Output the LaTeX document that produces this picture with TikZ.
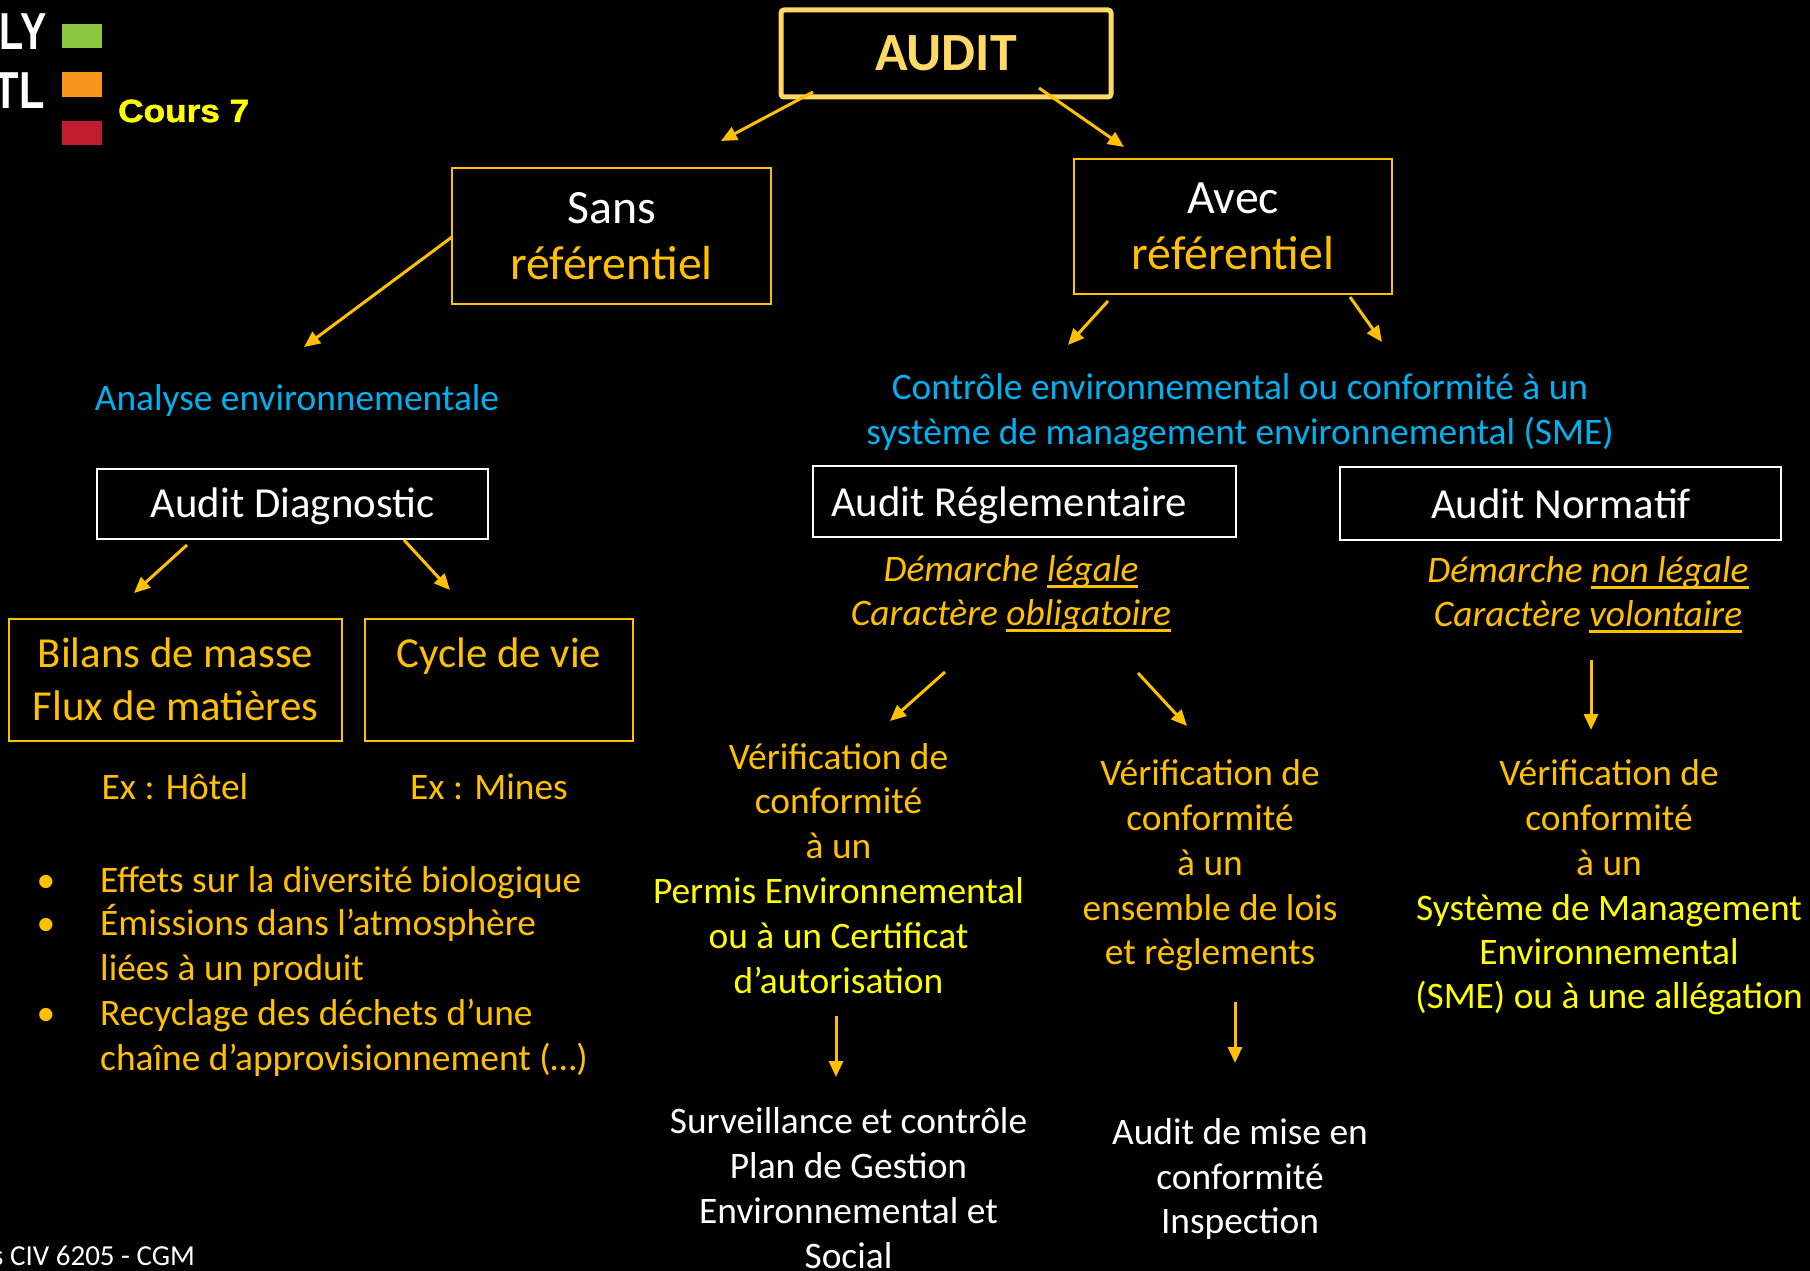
\documentclass[tikz,border=0pt]{standalone}
\usepackage{graphicx}
\usepackage{fontspec}
\setmainfont{Carlito}
\newfontfamily\arialfont{Liberation Sans}
\newfontfamily\heavyfont{Liberation Sans}[BoldFeatures={FakeBold=1.5}]
\usetikzlibrary{arrows.meta}
\definecolor{gold}{HTML}{FFC000}
\definecolor{lgold}{HTML}{FFD966}
\definecolor{yel}{HTML}{FFFF00}
\definecolor{sky}{HTML}{00B0F0}
\definecolor{sqgreen}{RGB}{141,198,63}
\definecolor{sqorange}{RGB}{247,148,29}
\definecolor{sqred}{RGB}{190,30,45}
\newcommand\myul[1]{\setbox0=\hbox{#1}\rlap{\rule[-6.5pt]{\wd0}{2.3pt}}\box0}
\tikzset{
  arr/.style={draw=gold, line width=3pt, -{Triangle[length=16pt,width=14pt]}},
  txt/.style={inner sep=0pt, anchor=base, font=\fontsize{37.4}{45}\selectfont},
  mid/.style={inner sep=0pt, anchor=base, font=\fontsize{42.8}{50}\selectfont},
  big/.style={inner sep=0pt, anchor=base, font=\fontsize{47.8}{56}\selectfont},
  goldbox/.style={draw=gold, line width=2.5pt, inner sep=0pt},
  whitebox/.style={draw=white, line width=2.5pt, inner sep=0pt},
}
\begin{document}
\begin{tikzpicture}[x=1pt,y=-1pt]
\fill[black] (0,0) rectangle (1810,1271);
\useasboundingbox (0,0) rectangle (1810,1271);

% top-left logo part
\node[inner sep=0pt, anchor=base east, text=white, font=\arialfont\bfseries\fontsize{52}{60}\selectfont] (ly) at (47,50) {\scalebox{0.76}[1]{LY}};
\node[inner sep=0pt, anchor=base east, text=white, font=\arialfont\bfseries\fontsize{52}{60}\selectfont] (tl) at (45,109) {\scalebox{0.8}[1]{TL}};
\fill[sqgreen] (62,24) rectangle (102,48);
\fill[sqorange] (62,72) rectangle (102,97);
\fill[sqred] (62,121) rectangle (102,145);
\node[inner sep=0pt, anchor=base west, text=yel, font=\heavyfont\bfseries\fontsize{32}{38}\selectfont] (cours) at (118,122) {\scalebox{1.1}[1]{Cours 7}};
\node[inner sep=0pt, anchor=base west, text=white, font=\fontsize{29}{34}\selectfont] (footer) at (-8,1265) {s CIV 6205 - CGM};

% boxes
\node[draw=lgold, line width=5pt, rounded corners=3pt, inner sep=0pt, minimum width=330pt, minimum height=87pt] (audit) at (946,53.5) {};
\node[goldbox, minimum width=319pt, minimum height=136pt] (sans) at (611.5,236) {};
\node[goldbox, minimum width=318pt, minimum height=135pt] (avec) at (1233,226.5) {};
\node[whitebox, minimum width=391pt, minimum height=70pt] (adiag) at (292.5,504) {};
\node[whitebox, minimum width=423pt, minimum height=71pt] (areg) at (1024.5,501.5) {};
\node[whitebox, minimum width=441pt, minimum height=73pt] (anorm) at (1560.5,503.5) {};
\node[goldbox, minimum width=333pt, minimum height=122pt] (bilans) at (175.5,680) {};
\node[goldbox, minimum width=268pt, minimum height=122pt] (cycle) at (499,680) {};

% box texts
\node[inner sep=0pt, anchor=base, text=lgold, font=\bfseries\fontsize{53.8}{60}\selectfont] (auditt) at (946,71) {AUDIT};
\node[big, text=white] (sans1) at (611.5,223) {Sans};
\node[big, text=gold] (sans2) at (611.5,279) {référentiel};
\node[big, text=white] (avec1) at (1233,213) {Avec};
\node[big, text=gold] (avec2) at (1233,269) {référentiel};
\node[mid, text=white] (adiagt) at (292.5,517) {Audit Diagnostic};
\node[mid, text=white] (aregt) at (1009,516) {Audit Réglementaire};
\node[mid, text=white] (anormt) at (1561,518) {Audit Normatif};
\node[mid, text=gold] (bil1) at (175.5,667) {Bilans de masse};
\node[mid, text=gold] (bil2) at (175.5,720) {Flux de matières};
\node[mid, text=gold] (cyc1) at (499,667) {Cycle de vie};

% free texts
\node[txt, text=sky] (analyse) at (297,410) {Analyse environnementale};
\node[txt, text=sky] (ctrl1) at (1240,399) {Contrôle environnemental ou conformité à un};
\node[txt, text=sky] (ctrl2) at (1240,444) {système de management environnemental (SME)};
\node[txt, text=gold] (exh) at (175,799) {Ex : Hôtel};
\node[txt, text=gold] (exm) at (489,799) {Ex : Mines};
\node[txt, text=gold, font=\itshape\fontsize{37.4}{45}\selectfont] (dem1) at (1011,581) {Démarche \myul{légale}};
\node[txt, text=gold, font=\itshape\fontsize{37.4}{45}\selectfont] (car1) at (1011,625) {Caractère \myul{obligatoire}};
\node[txt, text=gold, font=\itshape\fontsize{37.4}{45}\selectfont] (dem2) at (1588,582) {Démarche \myul{non légale}};
\node[txt, text=gold, font=\itshape\fontsize{37.4}{45}\selectfont] (car2) at (1588,626) {Caractère \myul{volontaire}};

% bullets
\node[txt, text=gold] (b1) at (46,892) {•};
\node[txt, text=gold] (b2) at (46,935) {•};
\node[txt, text=gold] (b3) at (46,1025) {•};
\node[txt, anchor=base west, text=gold] (l1) at (100,892) {Effets sur la diversité biologique};
\node[txt, anchor=base west, text=gold] (l2) at (100,935) {Émissions dans l’atmosphère};
\node[txt, anchor=base west, text=gold] (l3) at (100,980) {liées à un produit};
\node[txt, anchor=base west, text=gold] (l4) at (100,1025) {Recyclage des déchets d’une};
\node[txt, anchor=base west, text=gold] (l5) at (100,1070) {chaîne d’approvisionnement (…)};

% verification block 1
\node[txt, text=gold] (v1a) at (838.5,769) {Vérification de};
\node[txt, text=gold] (v1b) at (838.5,813) {conformité};
\node[txt, text=gold] (v1c) at (838.5,858) {à un};
\node[txt, text=yel] (v1d) at (838.5,903) {Permis Environnemental};
\node[txt, text=yel] (v1e) at (838.5,948) {ou à un Certificat};
\node[txt, text=yel] (v1f) at (838.5,993) {d’autorisation};
% block 2
\node[txt, text=gold] (v2a) at (1210,785) {Vérification de};
\node[txt, text=gold] (v2b) at (1210,830) {conformité};
\node[txt, text=gold] (v2c) at (1210,875) {à un};
\node[txt, text=gold] (v2d) at (1210,920) {ensemble de lois};
\node[txt, text=gold] (v2e) at (1210,964) {et règlements};
% block 3
\node[txt, text=gold] (v3a) at (1609,785) {Vérification de};
\node[txt, text=gold] (v3b) at (1609,830) {conformité};
\node[txt, text=gold] (v3c) at (1609,875) {à un};
\node[txt, text=yel] (v3d) at (1609,920) {Système de Management};
\node[txt, text=yel] (v3e) at (1609,964) {Environnemental};
\node[txt, text=yel] (v3f) at (1609,1008) {(SME) ou à une allégation};

% bottom blocks
\node[txt, text=white] (s1) at (848.5,1133) {Surveillance et contrôle};
\node[txt, text=white] (s2) at (848.5,1178) {Plan de Gestion};
\node[txt, text=white] (s3) at (848.5,1223) {Environnemental et};
\node[txt, text=white] (s4) at (848.5,1268) {Social};
\node[txt, text=white] (m1) at (1240,1144) {Audit de mise en};
\node[txt, text=white] (m2) at (1240,1189) {conformité};
\node[txt, text=white] (m3) at (1240,1233) {Inspection};

% arrow end points
\coordinate (a1s) at (813,92);   \coordinate (a1e) at (721,141);
\coordinate (a2s) at (1039,88);  \coordinate (a2e) at (1124,147);
\coordinate (a3s) at (452,237);  \coordinate (a3e) at (304,347);
\coordinate (a4s) at (1108,301); \coordinate (a4e) at (1068,345);
\coordinate (a5s) at (1350,297); \coordinate (a5e) at (1382,342);
\coordinate (a6s) at (187,545);  \coordinate (a6e) at (134,593);
\coordinate (a7s) at (404,540);  \coordinate (a7e) at (450,590);
\coordinate (a8s) at (945,672);  \coordinate (a8e) at (890,721);
\coordinate (a9s) at (1138,673); \coordinate (a9e) at (1187,726);
\coordinate (a10s) at (1591,660); \coordinate (a10e) at (1591,730);
\coordinate (a11s) at (836,1016); \coordinate (a11e) at (836,1077);
\coordinate (a12s) at (1235,1002); \coordinate (a12e) at (1235,1063);

\draw[arr] (a1s) -- (a1e);
\draw[arr] (a2s) -- (a2e);
\draw[arr] (a3s) -- (a3e);
\draw[arr] (a4s) -- (a4e);
\draw[arr] (a5s) -- (a5e);
\draw[arr] (a6s) -- (a6e);
\draw[arr] (a7s) -- (a7e);
\draw[arr] (a8s) -- (a8e);
\draw[arr] (a9s) -- (a9e);
\draw[arr] (a10s) -- (a10e);
\draw[arr] (a11s) -- (a11e);
\draw[arr] (a12s) -- (a12e);
\end{tikzpicture}
\end{document}
